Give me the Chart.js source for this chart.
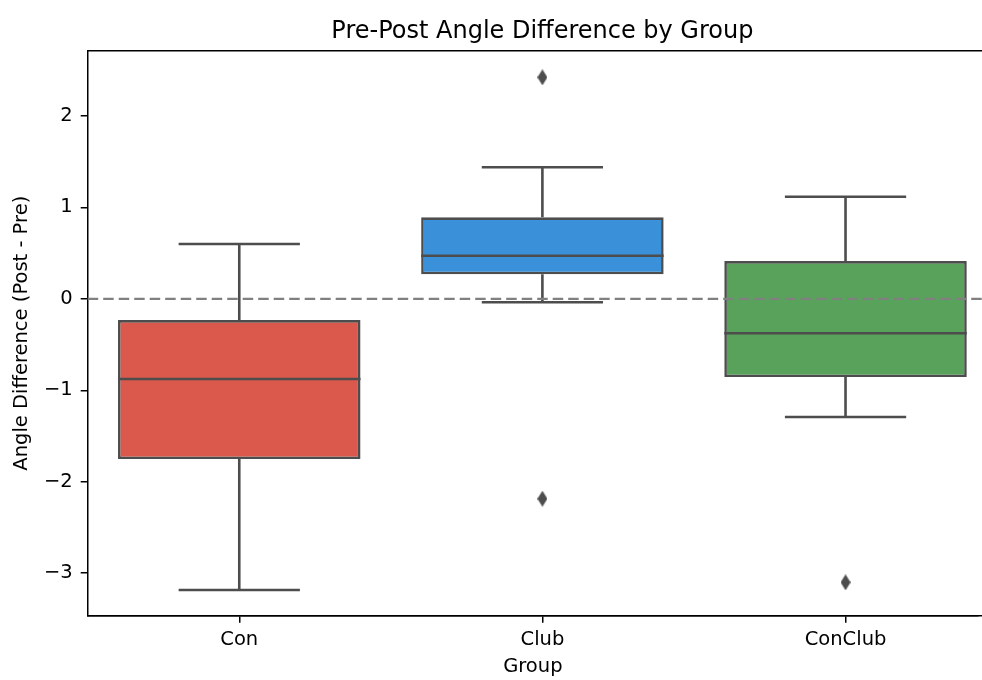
<!DOCTYPE html>
<html>
<head>
<meta charset="utf-8">
<title>Pre-Post Angle Difference by Group</title>
<script src="https://cdn.jsdelivr.net/npm/chart.js@4/dist/chart.umd.min.js"></script>
<style>
  html, body { margin: 0; padding: 0; background: #ffffff; overflow: hidden; }
  canvas { display: block; }
</style>
</head>
<body>
<canvas id="chart" width="982" height="680"></canvas>
<script>
// Box-plot summary per group
const groups = ['Con', 'Club', 'ConClub'];
const whiskerLow = [-3.184, -0.038, -1.292];
const q1 = [-1.752, 0.268, -0.855];
const median = [-0.877, 0.471, -0.377];
const q3 = [-0.232, 0.891, 0.413];
const whiskerHigh = [0.599, 1.438, 1.116];

// Points beyond the whiskers
const outlierGroup = ['Club', 'Club', 'ConClub'];
const outlierValue = [2.422, -2.186, -3.100];

// Axes
const yTicks = [-3, -2, -1, 0, 1, 2];
const yMin = -3.465;
const yMax = 2.713;
const xMin = -0.5;
const xMax = 2.437;   // the frame is cut just short of the last category's right edge
const refLine = 0;

const titleText = 'Pre-Post Angle Difference by Group';
const boxFill = ['#db584c', '#3a91d9', '#58a25b'];
const lineGray = '#4d4d4d';
const FONT = "'DejaVu Sans', sans-serif";

// thin diamond marker for the outliers
function thinDiamond(w, h, color) {
  const c = document.createElement('canvas');
  c.width = w; c.height = h;
  const g = c.getContext('2d');
  g.fillStyle = color;
  g.beginPath();
  g.moveTo(w / 2, 0);
  g.lineTo(w, h / 2);
  g.lineTo(w / 2, h);
  g.lineTo(0, h / 2);
  g.closePath();
  g.fill();
  return c;
}

const boxDecor = {
  id: 'boxDecor',
  // whiskers and caps, behind the boxes
  beforeDatasetsDraw(chart) {
    const ctx = chart.ctx;
    const y = chart.scales.y;
    const meta = chart.getDatasetMeta(0);
    ctx.save();
    ctx.strokeStyle = lineGray;
    ctx.lineWidth = 2.6;
    ctx.lineCap = 'butt';
    meta.data.forEach((bar, i) => {
      const cx = bar.x;
      const half = bar.width / 4;
      const yLo = y.getPixelForValue(whiskerLow[i]);
      const yQ1 = y.getPixelForValue(q1[i]);
      const yQ3 = y.getPixelForValue(q3[i]);
      const yHi = y.getPixelForValue(whiskerHigh[i]);
      ctx.beginPath();
      ctx.moveTo(cx, yQ1); ctx.lineTo(cx, yLo);
      ctx.moveTo(cx, yQ3); ctx.lineTo(cx, yHi);
      ctx.moveTo(cx - half, yLo); ctx.lineTo(cx + half, yLo);
      ctx.moveTo(cx - half, yHi); ctx.lineTo(cx + half, yHi);
      ctx.stroke();
    });
    ctx.restore();
  },
  // medians, reference line, top/bottom spines and the title
  afterDatasetsDraw(chart) {
    const ctx = chart.ctx;
    const x = chart.scales.x;
    const y = chart.scales.y;
    const area = chart.chartArea;
    const meta = chart.getDatasetMeta(0);
    ctx.save();
    ctx.strokeStyle = lineGray;
    ctx.lineWidth = 2.6;
    meta.data.forEach((bar, i) => {
      const ym = y.getPixelForValue(median[i]);
      ctx.beginPath();
      ctx.moveTo(bar.x - bar.width / 2, ym);
      ctx.lineTo(bar.x + bar.width / 2, ym);
      ctx.stroke();
    });
    const y0 = y.getPixelForValue(refLine);
    ctx.strokeStyle = '#808080';
    ctx.lineWidth = 2.2;
    ctx.setLineDash([10.5, 5]);
    ctx.beginPath();
    ctx.moveTo(area.left, y0);
    ctx.lineTo(chart.width, y0);
    ctx.stroke();
    ctx.setLineDash([]);
    ctx.strokeStyle = '#000000';
    ctx.lineWidth = 1.5;
    ctx.beginPath();
    ctx.moveTo(area.left, area.top);
    ctx.lineTo(chart.width, area.top);
    ctx.moveTo(area.left, area.bottom);
    ctx.lineTo(chart.width, area.bottom);
    ctx.stroke();
    // title centred over the full axes span (middle group)
    ctx.fillStyle = '#000000';
    ctx.font = "24px 'DejaVu Sans', sans-serif";
    ctx.textAlign = 'center';
    ctx.textBaseline = 'middle';
    ctx.fillText(titleText, x.getPixelForValue(1), area.top - 18.5);
    ctx.restore();
  }
};

new Chart(document.getElementById('chart'), {
  type: 'bar',
  data: {
    datasets: [
      {
        label: 'IQR',
        data: groups.map((g, i) => ({ x: i, y: [q1[i], q3[i]] })),
        backgroundColor: boxFill,
        borderColor: lineGray,
        borderWidth: 2.6,
        borderSkipped: false,
        barPercentage: 0.8,
        categoryPercentage: 1.0,
        order: 2
      },
      {
        type: 'line',
        label: 'Outliers',
        data: outlierGroup.map((g, i) => ({ x: groups.indexOf(g), y: outlierValue[i] })),
        showLine: false,
        borderWidth: 0,
        pointStyle: thinDiamond(10, 16, lineGray),
        pointRadius: 0.2,
        pointBorderWidth: 0,
        clip: false,
        order: 1
      }
    ]
  },
  options: {
    responsive: false,
    animation: false,
    layout: { padding: { left: 0, right: 0, top: 50.7, bottom: 0 } },
    plugins: {
      legend: { display: false },
      tooltip: { enabled: false },
      title: { display: false }
    },
    scales: {
      x: {
        type: 'linear',
        min: xMin,
        max: xMax,
        offset: false,
        grid: {
          display: true, drawOnChartArea: false, drawTicks: true, offset: false,
          tickLength: 7, color: '#000000', lineWidth: 1.5
        },
        border: { display: true, color: '#000000', width: 1.5 },
        ticks: {
          color: '#000000', padding: 6, includeBounds: false,
          font: { family: FONT, size: 19.5 },
          callback: (v) => groups[v]
        },
        afterBuildTicks(scale) { scale.ticks = groups.map((g, i) => ({ value: i })); },
        title: {
          display: true, text: 'Group', color: '#000000',
          font: { family: FONT, size: 19.5, lineHeight: 1.2 },
          padding: { top: 0, bottom: 1.5 }
        },
        afterFit(scale) {
          scale.height = 64.3;
          scale.paddingLeft = 0;
          scale.paddingRight = 0;
        }
      },
      y: {
        type: 'linear',
        min: yMin,
        max: yMax,
        grid: {
          display: true, drawOnChartArea: false, drawTicks: true,
          tickLength: 7, color: '#000000', lineWidth: 1.5
        },
        border: { display: true, color: '#000000', width: 1.5 },
        ticks: {
          color: '#000000', padding: 8, includeBounds: false,
          font: { family: FONT, size: 19.5 },
          callback: (v) => (v < 0 ? '\u2212' + Math.abs(v) : String(v))
        },
        afterBuildTicks(scale) { scale.ticks = yTicks.map(v => ({ value: v })); },
        title: {
          display: true, text: 'Angle Difference (Post - Pre)', color: '#000000',
          font: { family: FONT, size: 19.5, lineHeight: 1.2 },
          padding: { top: 10, bottom: 0 }
        },
        afterFit(scale) {
          scale.width = 87.7;
          scale.paddingTop = 0;
          scale.paddingBottom = 0;
        }
      }
    }
  },
  plugins: [boxDecor]
});
</script>
</body>
</html>
